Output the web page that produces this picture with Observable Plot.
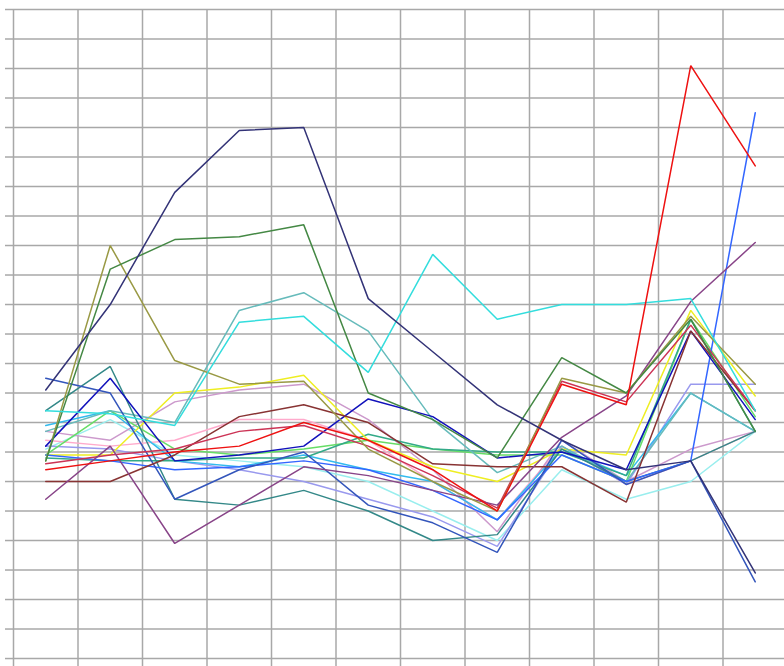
<!DOCTYPE html>
<html><head><meta charset="utf-8">
<script src="https://cdn.jsdelivr.net/npm/d3@7"></script>
<script src="https://cdn.jsdelivr.net/npm/@observablehq/plot@0.6"></script>
<style>body{margin:0;background:#fff;font-family:"Liberation Sans",Arial,sans-serif}</style>
</head><body><div id="chart"></div>
<script>
const categories = ["1","2","3","4","5","6","7","8","9","10","11","12"];
const yTicks = d3.range(0, 221, 10);

const lightCyan   = [71, 81, 69, 67, 65, 60, 50, 40, 64, 54, 60, 77];
const lightPink   = [74, 72, 74, 81, 81, 74, 60, 47, 72, 59, 67, 77];
const lavender    = [72, 71, 67, 64, 60, 54, 48, 38, 72, 59, 93, 93];
const pinkViolet  = [77, 74, 87, 91, 93, 81, 64, 43, 74, 60, 71, 77];
const sky         = [79, 84, 67, 65, 69, 64, 60, 47, 71, 62, 90, 77];
const brightGreen = [69, 84, 71, 69, 71, 74, 71, 69, 69, 60, 115, 82];
const tealGreen   = [68, 67, 67, 68, 68, 76, 71, 70, 70, 62, 115, 77];
const yellow      = [69, 69, 90, 92, 96, 74, 65, 60, 71, 69, 118, 89];
const cadet       = [77, 84, 80, 118, 124, 111, 81, 63, 72, 60, 90, 77];
const teal        = [84, 99, 54, 52, 57, 50, 40, 42, 71, 60, 67, 77];
const brightBlue  = [69, 67, 64, 65, 67, 64, 57, 47, 69, 60, 67, 185];
const royalBlue   = [95, 90, 54, 64, 70, 52, 46, 36, 74, 59, 67, 26];
const blue        = [72, 95, 67, 69, 72, 88, 82, 68, 70, 64, 111, 81];
const maroon      = [60, 60, 69, 82, 86, 80, 66, 65, 65, 53, 111, 84];
const crimson     = [66, 69, 71, 77, 79, 72, 62, 51, 94, 87, 113, 84];
const purple      = [54, 72, 39, 52, 65, 62, 57, 52, 75, 89, 121, 141];
const olive       = [67, 140, 101, 93, 94, 71, 60, 50, 95, 90, 116, 93];
const green       = [67, 132, 142, 143, 147, 90, 81, 68, 102, 90, 115, 77];
const turquoise   = [84, 83, 79, 114, 116, 97, 137, 115, 120, 120, 122, 84];
const red         = [64, 67, 70, 72, 80, 74, 64, 50, 93, 86, 201, 167];
const navy        = [91, 120, 158, 179, 180, 122, 104, 86, 74, 64, 67, 29];

const series = [
  {name: "lightCyan", color: "#99eeee", values: lightCyan},
  {name: "lightPink", color: "#ffaacc", values: lightPink},
  {name: "lavender", color: "#9999ee", values: lavender},
  {name: "pinkViolet", color: "#cc99cc", values: pinkViolet},
  {name: "sky", color: "#33bbee", values: sky},
  {name: "brightGreen", color: "#66dd66", values: brightGreen},
  {name: "tealGreen", color: "#33aa88", values: tealGreen},
  {name: "yellow", color: "#eeee22", values: yellow},
  {name: "cadet", color: "#66bbbb", values: cadet},
  {name: "teal", color: "#338888", values: teal},
  {name: "brightBlue", color: "#3366ff", values: brightBlue},
  {name: "royalBlue", color: "#3355bb", values: royalBlue},
  {name: "blue", color: "#1111bb", values: blue},
  {name: "maroon", color: "#883333", values: maroon},
  {name: "crimson", color: "#cc3355", values: crimson},
  {name: "purple", color: "#884488", values: purple},
  {name: "olive", color: "#999944", values: olive},
  {name: "green", color: "#448844", values: green},
  {name: "turquoise", color: "#33dddd", values: turquoise},
  {name: "red", color: "#ee1111", values: red},
  {name: "navy", color: "#333377", values: navy}
];

const rows = series.flatMap(s => s.values.map((v, i) => ({name: s.name, color: s.color, cat: i, y: v})));

const chart = Plot.plot({
  width: 784, height: 666,
  marginLeft: 13, marginRight: 0, marginTop: 9, marginBottom: 0,
  x: {domain: [0, 771 / 64.5], axis: null},
  y: {domain: [-2.7, 220], axis: null},
  color: {type: "identity"},
  marks: [
    Plot.ruleX(d3.range(0, categories.length), {stroke: "#a8a8a8", strokeWidth: 1.5}),
    Plot.ruleY(yTicks, {stroke: "#a8a8a8", strokeWidth: 1.5}),
    Plot.axisY(yTicks, {tickSize: 8, tickFormat: () => "", stroke: "#a8a8a8", strokeWidth: 1.5, label: null}),
    Plot.line(rows, {x: d => d.cat + 0.5, y: "y", z: "name", stroke: "color", strokeWidth: 1.5, strokeLinejoin: "miter"})
  ]
});
document.getElementById("chart").appendChild(chart);
</script>
</body></html>
